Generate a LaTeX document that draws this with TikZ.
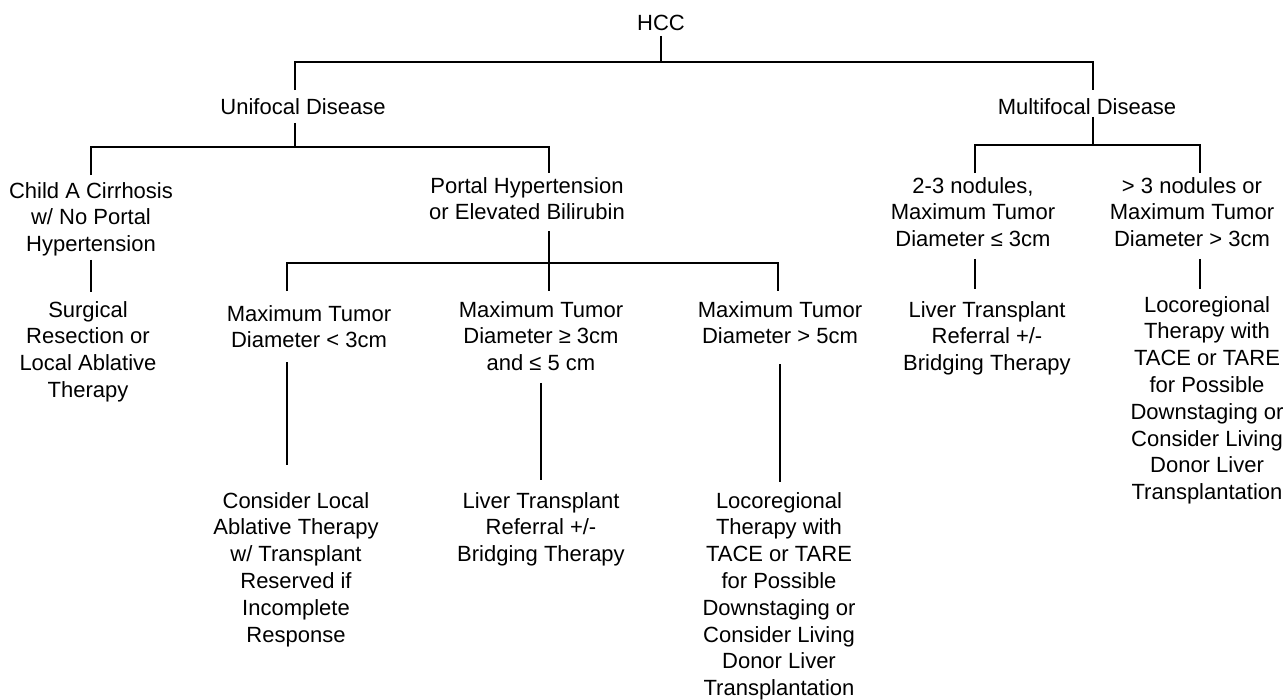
\documentclass[tikz,border=0pt]{standalone}
\usepackage{fontspec}
\setmainfont{Liberation Sans}
\tikzset{
  lbl/.style={anchor=north, align=center, inner sep=0pt,
    font=\fontsize{22}{26.8}\selectfont,
    execute at begin node=\strut, execute at end node=\strut},
  link/.style={line width=1.5pt}
}
\begin{document}
\begin{tikzpicture}[x=1pt,y=-1pt]
  \useasboundingbox (0,0) rectangle (1288,699);

  \node[lbl] (hcc)    at (661,12)  {HCC};
  \node[lbl] (uni)    at (303,96)  {Unifocal Disease};
  \node[lbl] (multi)  at (1087,96) {Multifocal Disease};

  \node[lbl] (child)  at (91,182)  {Child A Cirrhosis\\w/ No Portal\\Hypertension};
  \node[lbl] (surg)   at (88,301)  {Surgical\\Resection or\\Local Ablative\\Therapy};
  \node[lbl] (portal) at (527,177) {Portal Hypertension\\or Elevated Bilirubin};

  \node[lbl] (mlt3)   at (309,305) {Maximum Tumor\\Diameter < 3cm};
  \node[lbl] (mge3)   at (541,301) {Maximum Tumor\\Diameter ≥ 3cm\\and ≤ 5 cm};
  \node[lbl] (mgt5)   at (780,301) {Maximum Tumor\\Diameter > 5cm};
  \node[lbl] (abl)    at (296,492) {Consider Local\\Ablative Therapy\\w/ Transplant\\Reserved if\\Incomplete\\Response};
  \node[lbl] (ltx)    at (541,492) {Liver Transplant\\Referral +/-\\Bridging Therapy};
  \node[lbl] (loco)   at (779,492) {Locoregional\\Therapy with\\TACE or TARE\\for Possible\\Downstaging or\\Consider Living\\Donor Liver\\Transplantation};

  \node[lbl] (nod23)  at (973,177)  {2-3 nodules,\\Maximum Tumor\\Diameter ≤ 3cm};
  \node[lbl] (nodgt3) at (1192,177) {> 3 nodules or\\Maximum Tumor\\Diameter > 3cm};
  \node[lbl] (ltx2)   at (987,301)  {Liver Transplant\\Referral +/-\\Bridging Therapy};
  \node[lbl] (loco2)  at (1207,296) {Locoregional\\Therapy with\\TACE or TARE\\for Possible\\Downstaging or\\Consider Living\\Donor Liver\\Transplantation};

  % split points
  \coordinate (j0) at (661,62);
  \coordinate (ju) at (295,147);
  \coordinate (jp) at (549,263);
  \coordinate (k1) at (287,263);
  \coordinate (k3) at (778,263);
  \coordinate (jm) at (1093,145);
  \coordinate (m1) at (975,145);
  \coordinate (m2) at (1200,145);

  \draw[link, shorten <=5pt] (hcc.base) -- (j0);
  \draw[link, shorten <=6pt, shorten >=6pt] (uni.north -| ju) |- (j0) -| (multi.north -| jm);

  \draw[link, shorten <=8pt] (uni.base -| ju) -- (ju);
  \draw[link, shorten <=7pt, shorten >=4pt] (child.north) |- (ju) -| (portal.north -| jp);
  \draw[link, shorten >=9pt] (child.south) -- (child.south |- surg.north);

  \draw[link, shorten <=3pt, shorten >=10pt] (portal.south -| jp) -- (mge3.north -| jp);
  \draw[link, shorten <=14pt, shorten >=10pt] (mlt3.north -| k1) -- (k1) -- (k3) -- (mgt5.north -| k3);
  \draw[link, shorten <=6pt, shorten >=27pt] (mlt3.south -| k1) -- (abl.north -| k1);
  \draw[link, shorten <=4pt, shorten >=12pt] (mge3.south) -- (mge3.south |- ltx.north);
  \draw[link, shorten <=12pt, shorten >=10pt] (mgt5.south) -- (mgt5.south |- loco.north);

  \draw[link, shorten <=2pt] (multi.base -| jm) -- (jm);
  \draw[link, shorten <=4pt, shorten >=4pt] (nod23.north -| m1) -- (m1) -- (m2) -- (nodgt3.north -| m2);
  \draw[link, shorten <=4pt, shorten >=12pt] (nod23.south -| m1) -- (ltx2.north -| m1);
  \draw[link, shorten <=4pt, shorten >=7pt] (nodgt3.south -| m2) -- (loco2.north -| m2);
\end{tikzpicture}
\end{document}
